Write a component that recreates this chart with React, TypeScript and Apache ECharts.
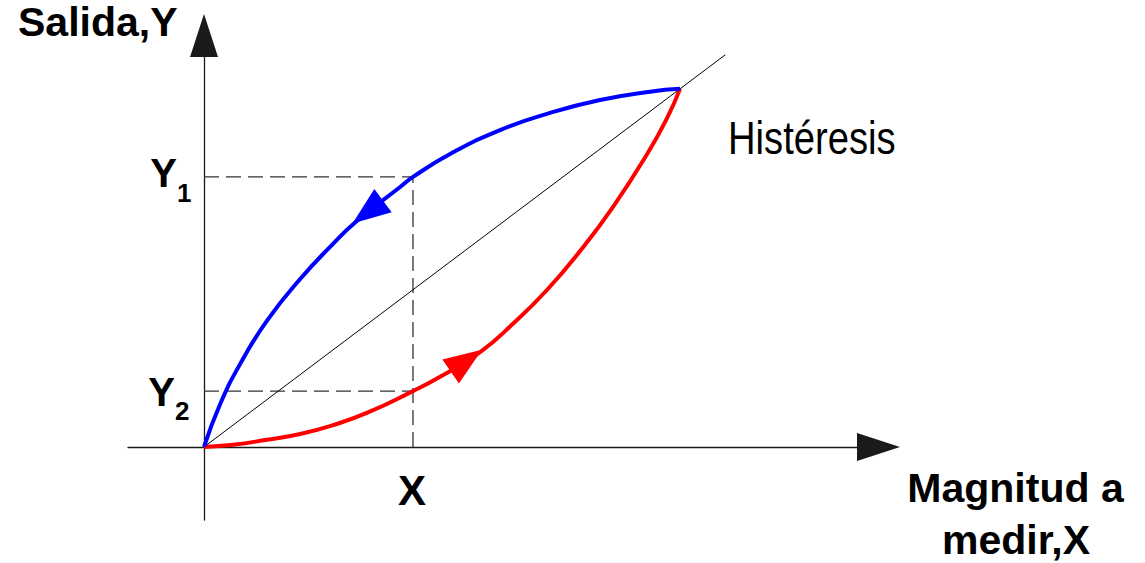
import React, { useEffect, useRef } from "react";
import * as echarts from "echarts";

// Curve going up (red, loading) and coming back (blue, unloading), in normalized units (peak = 10,10)
const ascendingCurve: [number, number][] = [
  [0, 0], [0.61, 0.06], [1.32, 0.2], [2.02, 0.36], [2.71, 0.61], [3.42, 0.95],
  [4.39, 1.56], [4.96, 1.96], [5.8, 2.65], [6.49, 3.44], [7.21, 4.39], [7.9, 5.47],
  [8.59, 6.7], [9.31, 8.18], [9.73, 9.19], [10, 10],
];
const descendingCurve: [number, number][] = [
  [10, 10], [9.37, 9.92], [8.32, 9.69], [7.27, 9.33], [6.22, 8.85], [5.17, 8.18],
  [4.39, 7.54], [4.12, 7.26], [3.21, 6.31], [2.71, 5.67], [2.02, 4.69], [1.32, 3.52],
  [0.76, 2.32], [0.34, 1.2], [0, 0],
];
const idealLine: [number, number][] = [[0, 0], [10.95, 10.95]];

const X_VALUE = 4.39;
const Y1_VALUE = 7.54;
const Y2_VALUE = 1.56;

// direction arrows on the curves: [x, y, rotation]
const descendingArrow: [number, number, number] = [3.44, 6.56, 126.7];
const ascendingArrow: [number, number, number] = [5.51, 2.41, -55.3];

const X_MIN = -1.597;
const X_MAX = 14.17;
const Y_MIN = -2.04;
const Y_MAX = 11.49;

const FONT = "'Liberation Sans', Arial, Helvetica, sans-serif";

function txt(
  x: number,
  y: number,
  text: string,
  size: number,
  weight: string,
  align: string,
  extra: any = {}
) {
  return {
    type: "text",
    x,
    y,
    silent: true,
    ...extra,
    style: {
      x: 0,
      y: 0,
      text,
      fill: "#000",
      fontSize: size,
      fontWeight: weight,
      fontFamily: FONT,
      align,
      verticalAlign: "middle",
      textAlign: align,
      textVerticalAlign: "middle",
    },
  };
}

export default function App() {
  const ref = useRef<HTMLDivElement>(null);
  useEffect(() => {
    if (!ref.current) return;
    const chart = echarts.init(ref.current, undefined, { renderer: "svg" });
    const axisLineStyle = { color: "#1a1a1a", width: 1.3 };
    const dashStyle = { color: "#333", width: 1.3, type: [15, 7] as any };
    const option: any = {
      animation: false,
      backgroundColor: "#fff",
      grid: { left: 128, right: 266.5, top: 35.5, bottom: 43, containLabel: false, outerBoundsMode: "none" },
      xAxis: {
        type: "value",
        min: X_MIN,
        max: X_MAX,
        axisLine: {
          show: true,
          onZero: true,
          symbol: ["none", "triangle"],
          symbolSize: [28, 43],
          lineStyle: axisLineStyle,
        },
        axisTick: { show: false },
        axisLabel: { show: false },
        splitLine: { show: false },
      },
      yAxis: {
        type: "value",
        min: Y_MIN,
        max: Y_MAX,
        axisLine: {
          show: true,
          onZero: true,
          symbol: ["none", "triangle"],
          symbolSize: [28, 43],
          lineStyle: axisLineStyle,
        },
        axisTick: { show: false },
        axisLabel: { show: false },
        splitLine: { show: false },
      },
      series: [
        {
          type: "line",
          data: [[0, Y1_VALUE], [X_VALUE, Y1_VALUE]],
          symbol: "none",
          lineStyle: dashStyle,
          z: 1,
        },
        {
          type: "line",
          data: [[0, Y2_VALUE], [X_VALUE, Y2_VALUE]],
          symbol: "none",
          lineStyle: dashStyle,
          z: 1,
        },
        {
          type: "line",
          data: [[X_VALUE, 0], [X_VALUE, Y1_VALUE]],
          symbol: "none",
          lineStyle: dashStyle,
          z: 1,
        },
        {
          type: "line",
          data: idealLine,
          symbol: "none",
          lineStyle: { color: "#000", width: 1 },
          z: 2,
        },
        {
          type: "line",
          data: ascendingCurve,
          symbol: "none",
          smooth: 0.5,
          lineStyle: { color: "#ff0000", width: 4 },
          z: 3,
        },
        {
          type: "line",
          data: descendingCurve,
          symbol: "none",
          smooth: 0.5,
          lineStyle: { color: "#0000ff", width: 4 },
          z: 4,
        },
        {
          type: "scatter",
          symbol: "triangle",
          symbolSize: [29, 38],
          z: 5,
          itemStyle: { opacity: 1 },
          data: [
            {
              value: [descendingArrow[0], descendingArrow[1]],
              symbolRotate: descendingArrow[2],
              itemStyle: { color: "#0000ff", opacity: 1 },
            },
            {
              value: [ascendingArrow[0], ascendingArrow[1]],
              symbolRotate: ascendingArrow[2],
              itemStyle: { color: "#ff0000", opacity: 1 },
            },
          ],
        },
      ],
      graphic: [
        txt(18, 22, "Salida,Y", 41, "bold", "left"),
        txt(177, 173, "Y", 40, "bold", "right"),
        txt(177, 193, "1", 26, "bold", "left"),
        txt(175, 392, "Y", 40, "bold", "right"),
        txt(175, 411, "2", 26, "bold", "left"),
        txt(412, 490, "X", 42, "bold", "center"),
        txt(1015.5, 487.5, "Magnitud a", 41, "bold", "center"),
        txt(1016, 540, "medir,X", 41, "bold", "center"),
        txt(728, 138.5, "Histéresis", 46, "normal", "left", { scaleX: 0.83 }),
      ],
    };
    chart.setOption(option);
    return () => chart.dispose();
  }, []);
  return (
    <div
      ref={ref}
      style={{ position: "fixed", left: 0, top: 0, width: 1145, height: 563, background: "#fff" }}
    />
  );
}
